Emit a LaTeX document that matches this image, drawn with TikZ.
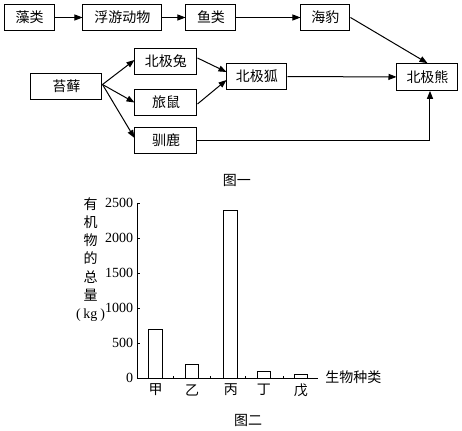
\documentclass[tikz,border=0pt]{standalone}
\usepackage{fontspec}
\setmainfont{Liberation Serif}
\newfontfamily\cjk{Noto Sans CJK SC}
\usetikzlibrary{arrows.meta,calc,positioning}
\tikzset{
  >={Triangle[length=6pt,width=4.5pt]},
  flow/.style={->,draw=black,line width=0.75pt},
  flowline/.style={draw=black,line width=0.75pt},
  species/.style={
    draw=black,
    rectangle,
    line width=0.75pt,
    minimum height=20pt,
    inner sep=0pt,
    font=\cjk\fontsize{10.5}{12}\selectfont
  },
  axis/.style={draw=black,line width=0.75pt},
  bar/.style={draw=black,fill=white,line width=0.75pt},
  ticklabel/.style={font=\fontsize{10.5}{12}\selectfont,inner sep=0pt},
  cjklabel/.style={font=\cjk\fontsize{10.5}{12}\selectfont,inner sep=0pt}
}

\begin{document}
\begin{tikzpicture}[x=0.75pt,y=-0.75pt]
  \useasboundingbox (0,0) rectangle (462,431);
  \fill[white] (0,0) rectangle (462,431);

  % Figure 1: food web
  \node[species,minimum width=37.2pt] (zaolei) at (29.5,17.5) {藻类};
  \node[species,minimum width=59.25pt] (fuyou) at (122.5,17.5) {浮游动物};
  \node[species,minimum width=37.5pt] (yulei) at (211,17.5) {鱼类};
  \node[species,minimum width=36.75pt] (haibao) at (325.5,17.5) {海豹};

  \node[species,minimum width=53.25pt] (taixian) at (66.5,86.5) {苔藓};
  \node[species,minimum width=46.5pt] (tu) at (166,61.5) {北极兔};
  \node[species,minimum width=46.5pt] (lvshu) at (166,102.5) {旅鼠};
  \node[species,minimum width=46.5pt] (xunlu) at (166,140.5) {驯鹿};
  \node[species,minimum width=45pt] (hu) at (257,76.5) {北极狐};
  \node[species,minimum width=45.75pt] (xiong) at (427.5,77) {北极熊};

  \draw[flow] (zaolei) -- (fuyou);
  \draw[flow] (fuyou) -- (yulei);
  \draw[flow] (yulei) -- (haibao);
  \draw[flow] (haibao.east) -- (xiong.north);

  \coordinate (fan) at ($(taixian.east)+(0,-2)$);
  \draw[flow] (fan) -- ($(tu.west)+(0,-1.5)$);
  \draw[flow] (fan) -- (lvshu.west);
  \draw[flow] (fan) -- ($(xunlu.west)+(0,-2.5)$);

  \draw[flow] ($(tu.east)+(0,-3.5)$) -- ($(hu.west)+(0,-4.5)$);
  \draw[flow] ($(lvshu.east)+(0,1.5)$) -- ($(hu.west)+(0,3.5)$);
  \draw[flow] (hu) -- (xiong);
  \draw[flow] (xunlu.east) -| ($(xiong.south)+(2.5,0)$);

  \node[cjklabel] (cap1) at (237,180) {图一};

  % Figure 2: bar chart
  \coordinate (origin) at (137.3,378.3);
  \coordinate (ytop) at (137.3,203);
  \coordinate (xend) at (318,378.3);
  \draw[axis] (ytop) -- (origin) -- (xend);

  \foreach \val in {0,500,...,2500} {
    \draw[axis] ($(origin)+(0,-0.07*\val)$) -- ++(3,0);
    \node[ticklabel,anchor=east] (ytick\val) at ($(origin)+(-4,-0.07*\val)$) {\val};
  }
  \foreach \tx in {173.3,210.7,245.3,283.3} {
    \draw[axis] (\tx,378.3) -- ++(0,-2.5);
  }

  \foreach \name/\cx/\val [count=\k] in {
    甲/155.7/690,
    乙/192.2/190,
    丙/230.8/2400,
    丁/264/100,
    戊/301/60
  } {
    \draw[bar] (\cx-6.8,378.3) rectangle (\cx+6.8,378.3-0.07*\val);
    \node[cjklabel] (cat\k) at (\cx,390) {\name};
  }

  \node[cjklabel,anchor=west] (xlabel) at (325,377) {生物种类};
  \node[cjklabel,align=center,anchor=north,font=\cjk\fontsize{10.5}{13.7}\selectfont]
    (ylabel) at (90.5,197) {有\\机\\物\\的\\总\\量\\\textrm{(\hspace{0.2em}kg\hspace{0.2em})}};

  \node[cjklabel] (cap2) at (248,420) {图二};
\end{tikzpicture}
\end{document}
